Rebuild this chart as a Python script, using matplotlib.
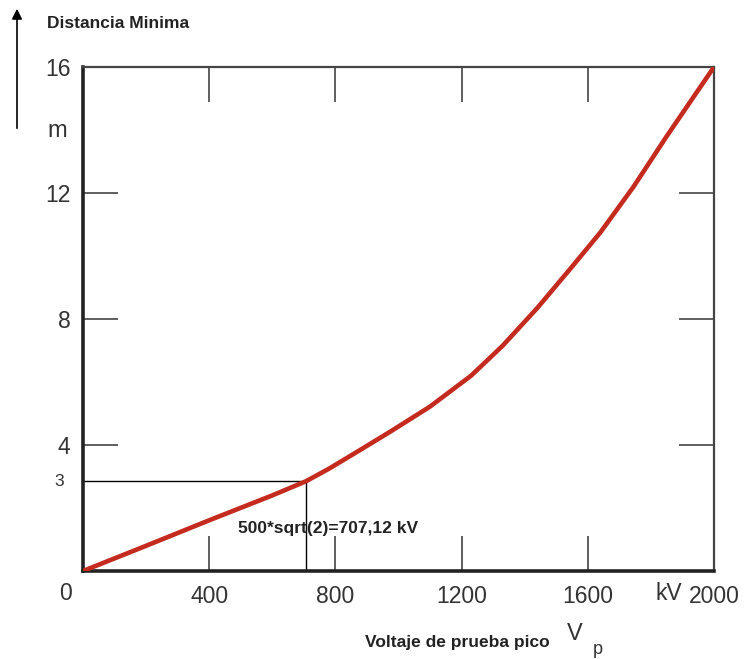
"""
Distancia minima vs voltaje de prueba pico
"""

import matplotlib.pyplot as plt

# Valores (kV, m)
voltaje_kv = [0, 200, 400, 600, 707, 780, 850, 975, 1100, 1230, 1330, 1440, 1545, 1640, 1745, 1850, 2000]
distancia_m = [0, 0.80, 1.61, 2.40, 2.85, 3.25, 3.67, 4.43, 5.22, 6.2, 7.15, 8.35, 9.6, 10.75, 12.2, 13.8, 16.0]

x_ticks = [400, 800, 1200, 1600, 2000]
y_ticks = [4, 8, 12, 16]
v_punto = 707.12
d_punto = 2.85  # la linea guia "3" queda un poco por debajo de 3 en la escala

plt.rcParams['font.family'] = ['Liberation Sans', 'DejaVu Sans']

W, H = 754, 659


def px(x, y):
    # pixeles (desde arriba a la izquierda) -> fraccion de figura
    return x / W, 1 - y / H


fig = plt.figure(figsize=(W / 100, H / 100), dpi=100)
ax = fig.add_axes([83 / W, 1 - 571 / H, 631 / W, 504 / H])

ax.plot(voltaje_kv, distancia_m, color='#c42a1e', lw=3.3, solid_capstyle='round',
        solid_joinstyle='round', zorder=3)

# lineas guia hasta el punto de 707 kV
ax.plot([0, v_punto, v_punto], [d_punto, d_punto, 0], color='black', lw=1, zorder=2)

ax.set_xlim(0, 2000)
ax.set_ylim(0, 16)
ax.set_xticks(x_ticks)
ax.set_yticks(y_ticks)
ax.set_xticklabels([str(v) for v in x_ticks], fontsize=16.5, color='#333333')
ax.set_yticklabels([str(v) for v in y_ticks], fontsize=16.5, color='#333333')
ax.tick_params(axis='x', direction='in', length=25, width=1.2, top=True, pad=10, color='#444444')
ax.tick_params(axis='y', direction='in', length=25, width=1.2, right=True, pad=9, color='#444444')

for side in ['left', 'bottom']:
    ax.spines[side].set_linewidth(2.6)
    ax.spines[side].set_color('#222222')
for side in ['top', 'right']:
    ax.spines[side].set_linewidth(1.6)
    ax.spines[side].set_color('#444444')

# textos sueltos
fig.text(*px(65, 594), '0', fontsize=16.5, color='#333333', ha='center', va='center')
fig.text(*px(669, 593), 'kV', fontsize=16.5, color='#333333', ha='center', va='center')
fig.text(*px(59, 482), '3', fontsize=12.5, color='#333333', ha='center', va='center')
fig.text(*px(57, 131), 'm', fontsize=17, color='#333333', ha='center', va='center')
fig.text(*px(47, 23), 'Distancia Minima', fontsize=12.5, fontweight='bold',
         color='#222222', ha='left', va='center')
fig.text(*px(550, 642), 'Voltaje de prueba pico', fontsize=12.5, fontweight='bold',
         color='#222222', ha='right', va='center')
fig.text(*px(575, 634), 'V', fontsize=17, color='#333333', ha='center', va='center')
fig.text(*px(598, 650), 'p', fontsize=13, color='#333333', ha='center', va='center')
fig.text(*px(238, 529), '500*sqrt(2)=707,12 kV', fontsize=12.5, fontweight='bold',
         color='#222222', ha='left', va='center')

# flecha vertical del eje y
fig.add_artist(plt.Annotation('', xy=px(17, 6), xytext=px(17, 131),
                              xycoords='figure fraction',
                              arrowprops=dict(arrowstyle='-|>', color='black', lw=1.2,
                                              mutation_scale=15)))

fig.savefig('out.png', dpi=100)
